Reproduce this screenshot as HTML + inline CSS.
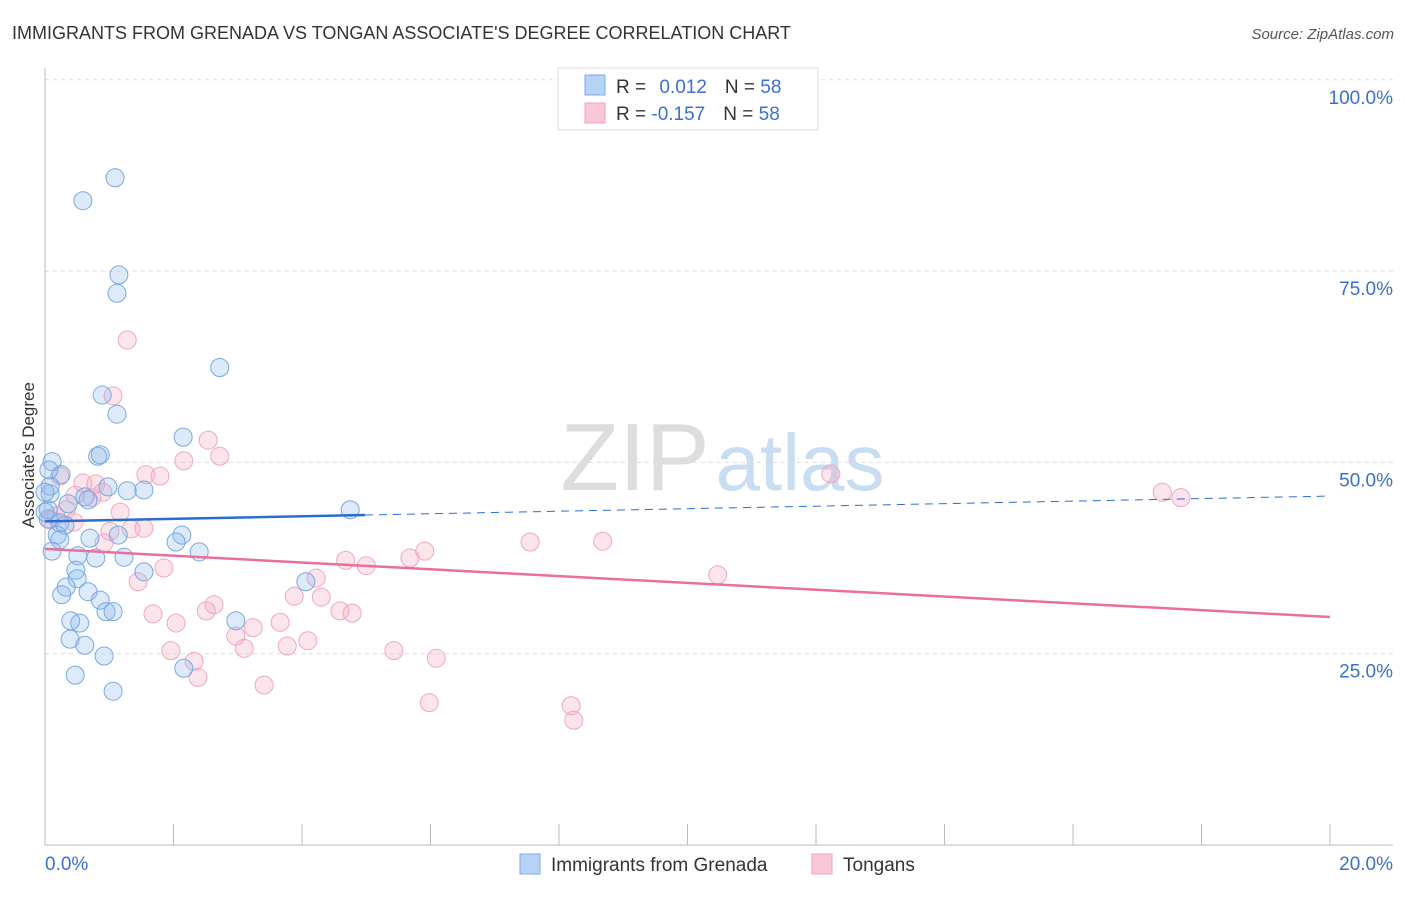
<!DOCTYPE html>
<html><head><meta charset="utf-8"><style>
body{margin:0;background:#fff;font-family:"Liberation Sans",sans-serif}
svg text{font-family:"Liberation Sans",sans-serif}
</style></head><body>
<svg id="chart" width="1406" height="892" xmlns="http://www.w3.org/2000/svg">
<text x="12" y="39" font-size="18" fill="#333">IMMIGRANTS FROM GRENADA VS TONGAN ASSOCIATE'S DEGREE CORRELATION CHART</text>
<text x="1394" y="39" font-size="15" fill="#555" font-style="italic" text-anchor="end">Source: ZipAtlas.com</text>
<g><text x="635" y="490" font-size="96" fill="#ddd" font-family="Liberation Serif" text-anchor="middle">ZIP</text><text x="800" y="490" font-size="80" fill="#c8dcf2" text-anchor="middle">atlas</text></g>
<g id="grid"></g><g id="axes"></g><g id="marks"></g><g id="trends"></g>
<text x="0" y="0" transform="translate(34,455) rotate(-90)" font-size="17" fill="#333" text-anchor="middle">Associate's Degree</text>
<g>
<rect x="558" y="68" width="260" height="62" fill="#fff" stroke="#ddd"/>
<rect x="585" y="75" width="20" height="20" fill="#b6d2f5" stroke="#7eaae6"/>
<rect x="585" y="103" width="20" height="20" fill="#f9c7d5" stroke="#efa3bb"/>
<text x="616" y="93" font-size="19" fill="#333">R = <tspan fill="#3a70d0" dx="8">0.012</tspan><tspan dx="18" fill="#333">N = </tspan><tspan fill="#3a70d0">58</tspan></text>
<text x="616" y="120" font-size="19" fill="#333">R = <tspan fill="#3a70d0">-0.157</tspan><tspan dx="18" fill="#333">N = </tspan><tspan fill="#3a70d0">58</tspan></text>
</g>
<g>
<rect x="520" y="854" width="20" height="20" fill="#b6d2f5" stroke="#7eaae6"/>
<text x="551" y="871" font-size="19" fill="#333">Immigrants from Grenada</text>
<rect x="812" y="854" width="20" height="20" fill="#f9c7d5" stroke="#efa3bb"/>
<text x="843" y="871" font-size="19" fill="#333">Tongans</text>
</g>
</svg>
<script>
const blueX=[1.09,0.59,1.15,1.12,2.72,0.89,1.12,2.15,0.86,0.11,0.82,0.25,0.98,1.28,1.54,0.08,0.62,0.08,0.36,0.67,4.75,0.05,0.23,0.31,0.19,1.14,0.70,2.13,2.04,0.11,2.40,0.51,0.79,1.23,0.48,1.54,0.50,0.33,0.26,0.67,0.86,4.06,0.95,1.06,2.97,0.54,0.40,0.39,0.62,0.92,2.16,0.47,1.06,0.06,0.05,0.0,0.23,0.0];
const blueY=[87.2,84.2,74.5,72.1,62.4,58.8,56.3,53.3,51.0,50.1,50.8,48.4,46.8,46.3,46.4,45.9,45.5,46.9,44.6,45.1,43.8,42.6,42.1,41.8,40.5,40.5,40.1,40.5,39.6,38.4,38.3,37.8,37.5,37.6,35.9,35.7,34.8,33.7,32.7,33.1,32.0,34.4,30.5,30.5,29.3,29.0,29.3,26.9,26.1,24.7,23.1,22.2,20.1,49.0,43.8,46.1,39.9,43.5];
const pinkX=[1.28,1.06,2.54,2.72,2.16,1.57,1.79,0.23,0.59,0.79,0.47,0.73,0.90,1.17,0.33,0.17,1.01,1.54,1.34,0.45,0.92,5.91,7.55,8.68,5.68,4.68,5.0,1.85,10.47,4.22,1.45,3.88,4.30,2.63,2.51,4.59,4.78,1.68,3.66,2.04,2.97,3.24,4.09,3.10,3.77,1.96,5.43,6.09,2.32,2.38,3.41,5.98,8.19,8.23,12.23,17.39,17.68,0.08];
const pinkY=[66.0,58.7,52.9,50.8,50.2,48.4,48.2,48.2,47.3,47.2,45.7,45.4,46.1,43.5,43.8,43.0,41.0,41.4,41.3,42.2,39.5,38.4,39.6,39.7,37.5,37.2,36.5,36.2,35.3,34.9,34.4,32.5,32.4,31.4,30.6,30.6,30.3,30.2,29.1,29.0,27.3,28.4,26.7,25.7,26.0,25.4,25.4,24.4,24.0,21.9,20.9,18.6,18.2,16.3,48.5,46.1,45.4,42.5];
const blueTrend=[42.3,45.6];const blueSolidEnd=4.98;
const pinkTrend=[38.7,29.8];
const yTicks=[25,50,75,100];const yTickLabels=["25.0%","50.0%","75.0%","100.0%"];
const xTickLabels=["0.0%","20.0%"];
const NS="http://www.w3.org/2000/svg";
const X0=45,X1=1330,Y0=845,YS=7.652;
const sx=v=>X0+(v/20)*(X1-X0), sy=v=>Y0-v*YS;
function mk(p,t,a){const e=document.createElementNS(NS,t);for(const k in a)e.setAttribute(k,a[k]);document.getElementById(p).appendChild(e);return e;}
yTicks.forEach((t,i)=>{
 const g=mk('grid','line',{x1:X0,x2:1393,y1:sy(t),y2:sy(t),stroke:'#ddd','stroke-dasharray':'4,4'});
 
 
 const l=mk('grid','text',{x:1393,y:sy(t)+24,'font-size':19,fill:'#3a70d0','text-anchor':'end'});l.textContent=yTickLabels[i];
 
 
});
let a=mk('axes','line',{x1:X0,x2:X0,y1:68,y2:Y0,stroke:'#bbb'});


a=mk('axes','line',{x1:X0,x2:1393,y1:Y0,y2:Y0,stroke:'#bbb'});


for(let i=0;i<=10;i++){const t=mk('axes','line',{x1:sx(i*2),x2:sx(i*2),y1:824,y2:Y0,stroke:'#bbb'});
 
 }
let xl=mk('axes','text',{x:45,y:870,'font-size':19,fill:'#3a70d0'});xl.textContent=xTickLabels[0];


xl=mk('axes','text',{x:1393,y:870,'font-size':19,fill:'#3a70d0','text-anchor':'end'});xl.textContent=xTickLabels[1];


pinkX.forEach((x,i)=>{const c=mk('marks','circle',{cx:sx(x),cy:sy(pinkY[i]),r:9,fill:'rgba(245,165,190,0.3)',stroke:'#f0a8be','stroke-width':1});
 
 });
blueX.forEach((x,i)=>{const c=mk('marks','circle',{cx:sx(x),cy:sy(blueY[i]),r:9,fill:'rgba(140,185,240,0.3)',stroke:'#78a8e4','stroke-width':1});
 
 });
const by=x=>blueTrend[0]+(blueTrend[1]-blueTrend[0])*x/20;
let t=mk('trends','line',{x1:sx(0),y1:sy(by(0)),x2:sx(blueSolidEnd),y2:sy(by(blueSolidEnd)),stroke:'#2a6dd0','stroke-width':2.5});


t=mk('trends','line',{x1:sx(blueSolidEnd),y1:sy(by(blueSolidEnd)),x2:sx(20),y2:sy(by(20)),stroke:'#2a6dd0','stroke-width':1,'stroke-dasharray':'8,6'});


t=mk('trends','line',{x1:sx(0),y1:sy(pinkTrend[0]),x2:sx(20),y2:sy(pinkTrend[1]),stroke:'#e8709a','stroke-width':2.5});


</script>
</body></html>
